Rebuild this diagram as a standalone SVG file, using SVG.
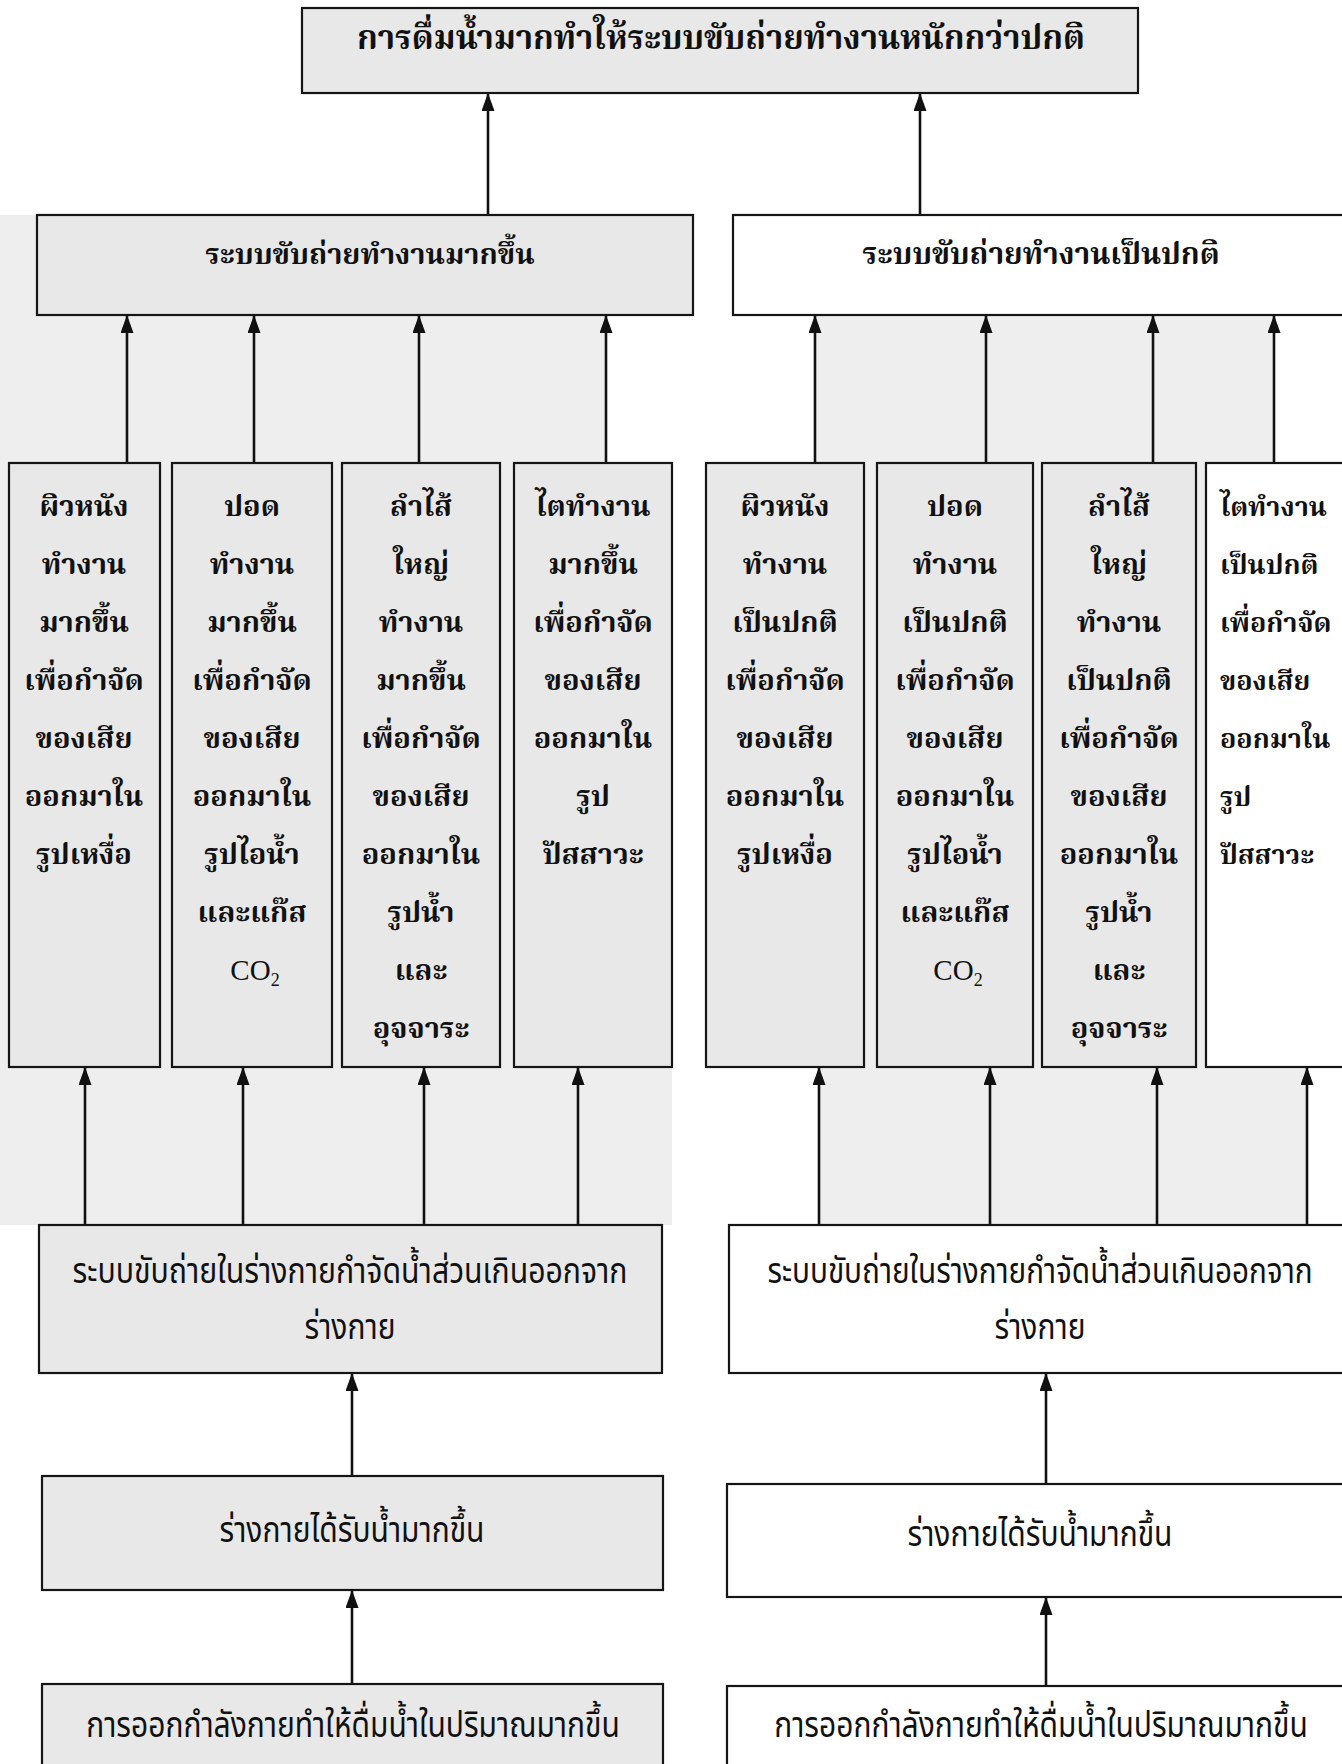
<svg xmlns="http://www.w3.org/2000/svg" width="1342" height="1764" viewBox="0 0 1342 1764">
<style>
.box{stroke:#151515;stroke-width:2.2}
.g{fill:#e8e8e8}
.w{fill:#ffffff}
.bg{fill:#eeeeee}
.tb{font-family:"Liberation Serif","Noto Serif Thai","Noto Sans Thai",serif;font-weight:bold;font-size:29px;fill:#111}
.tt{font-size:33px}
.tn{font-family:"Liberation Sans","Noto Sans Thai",sans-serif;font-size:30px;fill:#111}
.co{font-family:"Liberation Serif",serif;font-size:29px;fill:#111}
.c{stroke:#111;stroke-width:2.6;fill:none;marker-end:url(#ah)}
</style>
<defs>
<marker id="ah" viewBox="0 0 18 13" refX="18" refY="6.5" markerWidth="18" markerHeight="13" orient="auto" markerUnits="userSpaceOnUse">
<path d="M0,0 L18,6.5 L0,13 z" fill="#111"/>
</marker>
</defs>
<rect width="1342" height="1764" fill="#ffffff"/>
<path class="bg" d="M0,215 H606 V463 H672 V1225 H0 Z"/>
<path class="bg" d="M815,315 H1274 V463 H1206 V1067 H1307 V1225 H819 V1067 H706 V463 H815 Z"/>

<g id="connectors">
<line class="c" x1="488" y1="215" x2="488" y2="93"/>
<line class="c" x1="920" y1="215" x2="920" y2="93"/>
<line class="c" x1="127" y1="463" x2="127" y2="315"/>
<line class="c" x1="254" y1="463" x2="254" y2="315"/>
<line class="c" x1="419" y1="463" x2="419" y2="315"/>
<line class="c" x1="606" y1="463" x2="606" y2="315"/>
<line class="c" x1="815" y1="463" x2="815" y2="315"/>
<line class="c" x1="986" y1="463" x2="986" y2="315"/>
<line class="c" x1="1153" y1="463" x2="1153" y2="315"/>
<line class="c" x1="1274" y1="463" x2="1274" y2="315"/>
<line class="c" x1="85" y1="1225" x2="85" y2="1067"/>
<line class="c" x1="243" y1="1225" x2="243" y2="1067"/>
<line class="c" x1="424" y1="1225" x2="424" y2="1067"/>
<line class="c" x1="578" y1="1225" x2="578" y2="1067"/>
<line class="c" x1="819" y1="1225" x2="819" y2="1067"/>
<line class="c" x1="990" y1="1225" x2="990" y2="1067"/>
<line class="c" x1="1157" y1="1225" x2="1157" y2="1067"/>
<line class="c" x1="1307" y1="1225" x2="1307" y2="1067"/>
<line class="c" x1="352" y1="1476" x2="352" y2="1373"/>
<line class="c" x1="1046" y1="1484" x2="1046" y2="1373"/>
<line class="c" x1="352" y1="1684" x2="352" y2="1590"/>
<line class="c" x1="1046" y1="1686" x2="1046" y2="1597"/>
</g>

<g id="top">
<rect class="box g" x="302" y="8" width="836" height="85"/>
<text class="tb tt" x="721" y="49" text-anchor="middle">การดื่มน้ำมากทำให้ระบบขับถ่ายทำงานหนักกว่าปกติ</text>
</g>

<g id="l2-left">
<rect class="box g" x="37" y="215" width="656" height="100"/>
<text class="tb" x="370" y="264" text-anchor="middle">ระบบขับถ่ายทำงานมากขึ้น</text>
</g>
<g id="l2-right">
<rect class="box w" x="733" y="215" width="620" height="100"/>
<text class="tb" x="1041" y="264" text-anchor="middle" style="font-size:30px">ระบบขับถ่ายทำงานเป็นปกติ</text>
</g>

<g id="c1">
<rect class="box g" x="9" y="463" width="151" height="604"/>
<text class="tb" text-anchor="middle">
<tspan x="84" y="516">ผิวหนัง</tspan><tspan x="84" y="574">ทำงาน</tspan><tspan x="84" y="632">มากขึ้น</tspan><tspan x="84" y="690">เพื่อกำจัด</tspan><tspan x="84" y="748">ของเสีย</tspan><tspan x="84" y="806">ออกมาใน</tspan><tspan x="84" y="864">รูปเหงื่อ</tspan>
</text>
</g>
<g id="c2">
<rect class="box g" x="172" y="463" width="160" height="604"/>
<text class="tb" text-anchor="middle">
<tspan x="252" y="516">ปอด</tspan><tspan x="252" y="574">ทำงาน</tspan><tspan x="252" y="632">มากขึ้น</tspan><tspan x="252" y="690">เพื่อกำจัด</tspan><tspan x="252" y="748">ของเสีย</tspan><tspan x="252" y="806">ออกมาใน</tspan><tspan x="252" y="864">รูปไอน้ำ</tspan><tspan x="252" y="922">และแก๊ส</tspan>
</text>
<text class="co" x="255" y="980" text-anchor="middle">CO<tspan font-size="18" dy="6">2</tspan></text>
</g>
<g id="c3">
<rect class="box g" x="342" y="463" width="158" height="604"/>
<text class="tb" text-anchor="middle">
<tspan x="421" y="516">ลำไส้</tspan><tspan x="421" y="574">ใหญ่</tspan><tspan x="421" y="632">ทำงาน</tspan><tspan x="421" y="690">มากขึ้น</tspan><tspan x="421" y="748">เพื่อกำจัด</tspan><tspan x="421" y="806">ของเสีย</tspan><tspan x="421" y="864">ออกมาใน</tspan><tspan x="421" y="922">รูปน้ำ</tspan><tspan x="421" y="980">และ</tspan><tspan x="421" y="1038">อุจจาระ</tspan>
</text>
</g>
<g id="c4">
<rect class="box g" x="514" y="463" width="158" height="604"/>
<text class="tb" text-anchor="middle">
<tspan x="593" y="516">ไตทำงาน</tspan><tspan x="593" y="574">มากขึ้น</tspan><tspan x="593" y="632">เพื่อกำจัด</tspan><tspan x="593" y="690">ของเสีย</tspan><tspan x="593" y="748">ออกมาใน</tspan><tspan x="593" y="806">รูป</tspan><tspan x="593" y="864">ปัสสาวะ</tspan>
</text>
</g>
<g id="c5">
<rect class="box g" x="706" y="463" width="158" height="604"/>
<text class="tb" text-anchor="middle">
<tspan x="785" y="516">ผิวหนัง</tspan><tspan x="785" y="574">ทำงาน</tspan><tspan x="785" y="632">เป็นปกติ</tspan><tspan x="785" y="690">เพื่อกำจัด</tspan><tspan x="785" y="748">ของเสีย</tspan><tspan x="785" y="806">ออกมาใน</tspan><tspan x="785" y="864">รูปเหงื่อ</tspan>
</text>
</g>
<g id="c6">
<rect class="box g" x="877" y="463" width="156" height="604"/>
<text class="tb" text-anchor="middle">
<tspan x="955" y="516">ปอด</tspan><tspan x="955" y="574">ทำงาน</tspan><tspan x="955" y="632">เป็นปกติ</tspan><tspan x="955" y="690">เพื่อกำจัด</tspan><tspan x="955" y="748">ของเสีย</tspan><tspan x="955" y="806">ออกมาใน</tspan><tspan x="955" y="864">รูปไอน้ำ</tspan><tspan x="955" y="922">และแก๊ส</tspan>
</text>
<text class="co" x="958" y="980" text-anchor="middle">CO<tspan font-size="18" dy="6">2</tspan></text>
</g>
<g id="c7">
<rect class="box g" x="1042" y="463" width="154" height="604"/>
<text class="tb" text-anchor="middle">
<tspan x="1119" y="516">ลำไส้</tspan><tspan x="1119" y="574">ใหญ่</tspan><tspan x="1119" y="632">ทำงาน</tspan><tspan x="1119" y="690">เป็นปกติ</tspan><tspan x="1119" y="748">เพื่อกำจัด</tspan><tspan x="1119" y="806">ของเสีย</tspan><tspan x="1119" y="864">ออกมาใน</tspan><tspan x="1119" y="922">รูปน้ำ</tspan><tspan x="1119" y="980">และ</tspan><tspan x="1119" y="1038">อุจจาระ</tspan>
</text>
</g>
<g id="c8">
<rect class="box w" x="1206" y="463" width="150" height="604"/>
<text class="tb" style="font-size:27px">
<tspan x="1220" y="516">ไตทำงาน</tspan><tspan x="1220" y="574">เป็นปกติ</tspan><tspan x="1220" y="632">เพื่อกำจัด</tspan><tspan x="1220" y="690">ของเสีย</tspan><tspan x="1220" y="748">ออกมาใน</tspan><tspan x="1220" y="806">รูป</tspan><tspan x="1220" y="864">ปัสสาวะ</tspan>
</text>
</g>

<g id="l3-left">
<rect class="box g" x="39" y="1225" width="623" height="148"/>
<text class="tn" transform="translate(350,1283) scale(1,1.2)" text-anchor="middle" textLength="555" lengthAdjust="spacingAndGlyphs">ระบบขับถ่ายในร่างกายกำจัดน้ำส่วนเกินออกจาก</text>
<text class="tn" transform="translate(350,1339) scale(1,1.2)" text-anchor="middle">ร่างกาย</text>
</g>
<g id="l3-right">
<rect class="box w" x="729" y="1225" width="625" height="148"/>
<text class="tn" transform="translate(1040,1283) scale(1,1.2)" text-anchor="middle" textLength="545" lengthAdjust="spacingAndGlyphs">ระบบขับถ่ายในร่างกายกำจัดน้ำส่วนเกินออกจาก</text>
<text class="tn" transform="translate(1040,1339) scale(1,1.2)" text-anchor="middle">ร่างกาย</text>
</g>

<g id="l4-left">
<rect class="box g" x="42" y="1476" width="621" height="114"/>
<text class="tn" transform="translate(352,1542) scale(1,1.2)" text-anchor="middle">ร่างกายได้รับน้ำมากขึ้น</text>
</g>
<g id="l4-right">
<rect class="box w" x="727" y="1484" width="627" height="113"/>
<text class="tn" transform="translate(1040,1546) scale(1,1.2)" text-anchor="middle">ร่างกายได้รับน้ำมากขึ้น</text>
</g>

<g id="l5-left">
<rect class="box g" x="42" y="1684" width="621" height="100"/>
<text class="tn" transform="translate(353,1737) scale(1,1.2)" text-anchor="middle">การออกกำลังกายทำให้ดื่มน้ำในปริมาณมากขึ้น</text>
</g>
<g id="l5-right">
<rect class="box w" x="727" y="1686" width="627" height="100"/>
<text class="tn" transform="translate(1041,1737) scale(1,1.2)" text-anchor="middle">การออกกำลังกายทำให้ดื่มน้ำในปริมาณมากขึ้น</text>
</g>
</svg>
